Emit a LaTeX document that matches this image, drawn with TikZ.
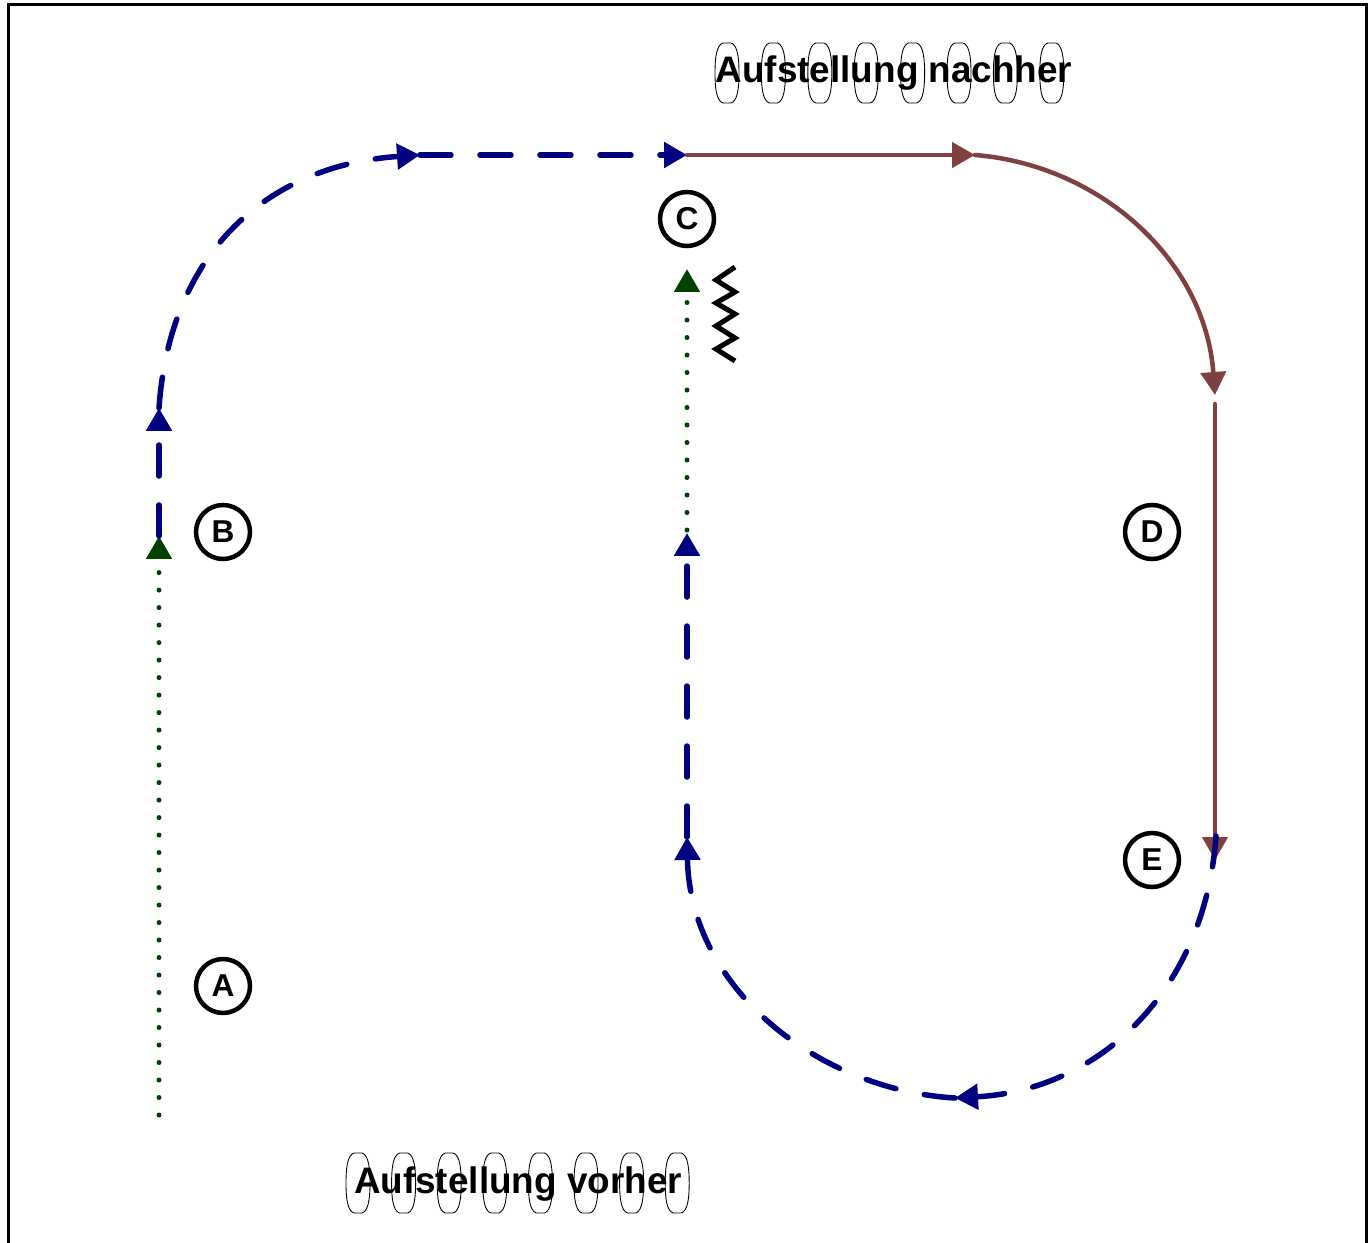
\documentclass[tikz,border=0pt]{standalone}
\usepackage{fontspec}
\setmainfont{Liberation Sans}
\usetikzlibrary{arrows.meta}
\definecolor{laufgreen}{RGB}{0,64,0}
\definecolor{passblue}{RGB}{0,0,128}
\definecolor{dribbrown}{RGB}{128,64,64}
\begin{document}
\begin{tikzpicture}[x=0.02cm,y=-0.02cm,
        tip/.style={-{Triangle[width=0.5cm,length=0.46cm]}},
        laufline/.style={tip,laufgreen,line width=0.1cm,line cap=round,dash pattern=on 0pt off 0.35cm},
        passline/.style={tip,passblue,line width=0.11cm,line cap=round,dash pattern=on 0.62cm off 0.58cm},
        dribbline/.style={tip,dribbrown,line width=0.09cm,line cap=round},
        posmark/.style={circle,draw,line width=0.09cm,minimum size=1.08cm,inner sep=0pt,font=\bfseries\fontsize{18}{18}\selectfont},
        caption/.style={font=\bfseries\fontsize{21}{21}\selectfont,inner sep=0pt,anchor=base}]
    \useasboundingbox (0,0) rectangle (1372,1243);
    \clip (0,0) rectangle (1372,1243);
    \draw[line width=0.06cm] (8.5,4.5) rectangle (1366,1270);
    % Aufstellung
    \foreach \i in {0,...,7}{
        \draw[line width=0.5pt] ({727+\i*46.4-4},43) -- ({727+\i*46.4+4},43)
            .. controls ({727+\i*46.4+11},45) and ({727+\i*46.4+12},60) .. ({727+\i*46.4+12},73)
            .. controls ({727+\i*46.4+12},86) and ({727+\i*46.4+11},101) .. ({727+\i*46.4+4},103)
            -- ({727+\i*46.4-4},103)
            .. controls ({727+\i*46.4-11},101) and ({727+\i*46.4-12},86) .. ({727+\i*46.4-12},73)
            .. controls ({727+\i*46.4-12},60) and ({727+\i*46.4-11},45) .. cycle;
        \draw[line width=0.5pt] ({358+\i*45.6-4},1153) -- ({358+\i*45.6+4},1153)
            .. controls ({358+\i*45.6+11},1155) and ({358+\i*45.6+12},1170) .. ({358+\i*45.6+12},1183)
            .. controls ({358+\i*45.6+12},1196) and ({358+\i*45.6+11},1211) .. ({358+\i*45.6+4},1213)
            -- ({358+\i*45.6-4},1213)
            .. controls ({358+\i*45.6-11},1211) and ({358+\i*45.6-12},1196) .. ({358+\i*45.6-12},1183)
            .. controls ({358+\i*45.6-12},1170) and ({358+\i*45.6-11},1155) .. cycle;
    }
    \node[caption] (nachher) at (894,83) {Aufstellung nachher};
    \node[caption] (vorher) at (518,1193) {Aufstellung vorher};
    % Positionen
    \node[posmark] (A) at (223,986) {A};
    \node[posmark] (B) at (223,532) {B};
    \node[posmark] (C) at (687,219) {C};
    \node[posmark] (D) at (1152,532) {D};
    \node[posmark] (E) at (1152,860) {E};
    % Wege
    \coordinate (a0) at (159,1115);
    \coordinate (b0) at (159,536);
    \coordinate (b1) at (159,408);
    \coordinate (c0) at (420,155);
    \coordinate (c1) at (687,155);
    \coordinate (c2) at (975,155);
    \coordinate (d0) at (1215,395);
    \coordinate (d1) at (1215,404);
    \coordinate (e0) at (1215,860);
    \coordinate (e1) at (1216,836);
    \coordinate (f0) at (955,1098);
    \coordinate (g0) at (687,837);
    \coordinate (g1) at (687,533);
    \coordinate (h0) at (687,530);
    \coordinate (h1) at (687,269);
    \draw[laufline] (a0) -- (b0);
    \draw[passline] (b0) -- (b1);
    \draw[passline] (b1) .. controls (170,250) and (270,165) .. (c0);
    \draw[passline] (c0) -- (c1);
    \draw[dribbline] (c1) -- (c2);
    \draw[dribbline] (c2) .. controls (1100,165) and (1205,260) .. (d0);
    \draw[dribbline] (d1) -- (e0);
    \draw[passline] (e1) .. controls (1205,990) and (1100,1090) .. (f0);
    \draw[passline] (f0) .. controls (820,1090) and (690,990) .. (g0);
    \draw[passline] (g0) -- (g1);
    \draw[laufline] (h0) -- (h1);
    % Zickzack
    \draw[line width=0.1cm,line join=miter] (735,267) -- (716,280) -- (735,292) -- (716,303) -- (735,314)
        -- (716,326) -- (735,338) -- (716,349) -- (735,361);
\end{tikzpicture}
\end{document}
